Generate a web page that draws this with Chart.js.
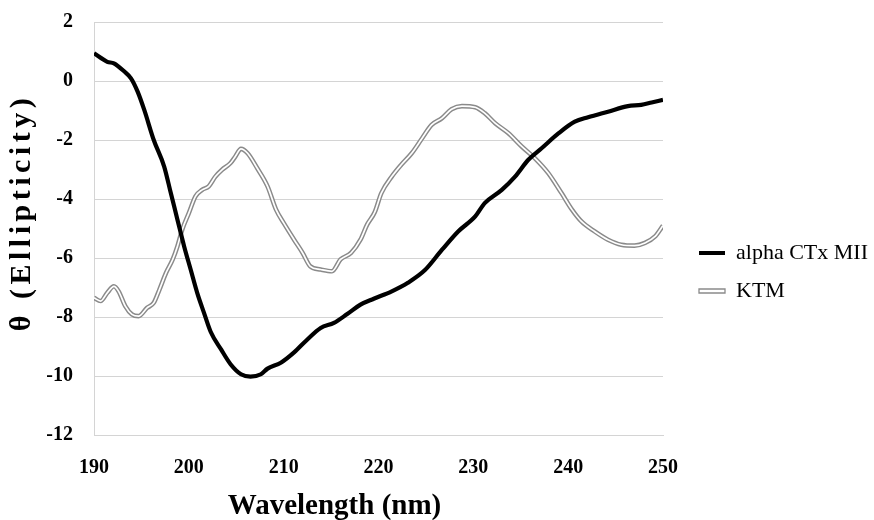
<!DOCTYPE html>
<html>
<head>
<meta charset="utf-8">
<script src="https://cdn.jsdelivr.net/npm/chart.js@4"></script>
<style>
  html, body { margin: 0; padding: 0; background: #fff; }
  #wrap { width: 874px; height: 520px; position: relative; }
</style>
</head>
<body>
<div id="wrap"><canvas id="cdChart"></canvas></div>
<script>
// alpha CTx MII
const ctxWavelength = [190.0, 191.4, 192.1, 193.2, 193.9, 194.6, 195.3, 196.3, 197.4, 198.1, 198.8, 199.5, 200.2, 200.9, 201.6, 202.3, 203.4, 204.4, 205.5, 206.5, 207.6, 208.3, 209.7, 211.1, 212.5, 213.9, 215.3, 216.7, 218.1, 219.5, 221.4, 223.1, 224.9, 226.7, 228.4, 230.2, 231.2, 233.0, 234.4, 235.8, 237.2, 239.0, 240.7, 242.1, 244.2, 246.3, 247.7, 248.8, 250.0];
const ctxTheta = [0.94, 0.65, 0.60, 0.32, 0.09, -0.36, -0.98, -2.0, -2.9, -3.8, -4.7, -5.6, -6.4, -7.2, -7.86, -8.5, -9.1, -9.6, -9.94, -10.02, -9.94, -9.75, -9.55, -9.2, -8.76, -8.37, -8.2, -7.9, -7.58, -7.38, -7.13, -6.84, -6.41, -5.72, -5.1, -4.59, -4.14, -3.69, -3.24, -2.67, -2.28, -1.77, -1.38, -1.23, -1.04, -0.85, -0.81, -0.73, -0.64];

// KTM
const ktmWavelength = [190.0, 190.7, 191.4, 192.1, 192.6, 193.3, 194.0, 194.7, 195.6, 196.3, 196.9, 197.6, 198.3, 198.8, 199.3, 200.0, 200.7, 201.4, 202.1, 202.8, 203.5, 204.4, 204.9, 205.5, 206.2, 207.2, 208.3, 209.2, 210.0, 211.1, 212.0, 212.8, 213.9, 215.1, 216.0, 217.1, 218.1, 218.8, 219.6, 220.3, 221.4, 222.4, 223.5, 224.6, 225.6, 226.7, 227.7, 228.8, 230.2, 231.2, 232.3, 233.7, 235.1, 236.5, 237.9, 239.3, 240.4, 241.4, 242.8, 244.2, 245.6, 247.0, 248.1, 249.2, 250.0];
const ktmTheta = [-7.35, -7.46, -7.18, -6.96, -7.13, -7.63, -7.91, -7.97, -7.69, -7.52, -7.07, -6.5, -6.05, -5.6, -5.04, -4.48, -3.91, -3.69, -3.57, -3.24, -3.01, -2.78, -2.56, -2.3, -2.45, -2.95, -3.57, -4.36, -4.81, -5.38, -5.83, -6.28, -6.39, -6.45, -6.05, -5.83, -5.38, -4.87, -4.45, -3.8, -3.24, -2.84, -2.45, -1.94, -1.49, -1.26, -0.96, -0.85, -0.89, -1.09, -1.43, -1.77, -2.22, -2.62, -3.12, -3.8, -4.36, -4.76, -5.1, -5.38, -5.55, -5.58, -5.49, -5.26, -4.9];

const seriesNames = ['alpha CTx MII', 'KTM'];
const xTitle = 'Wavelength (nm)';
const yTitle = 'θ (Ellipticity)';

const toPoints = (xs, ys) => xs.map((x, i) => ({ x, y: ys[i] }));
const serif = 'Liberation Serif, Times New Roman, serif';

// draw an axis title shifted (and optionally letter-spaced) like the original
function offsetTitle(scale, dx, dy, spacing) {
  scale.drawTitle = function () {
    const c = this.ctx;
    c.save();
    c.translate(dx, dy);
    c.letterSpacing = spacing;
    Object.getPrototypeOf(this).drawTitle.call(this);
    c.restore();
    c.letterSpacing = '0px';
  };
}

// legend: fixed width, nudged to match the original placement
const legendPlace = {
  id: 'legendPlace',
  beforeInit(chart) {
    const fit = chart.legend.fit;
    chart.legend.fit = function () {
      fit.call(this);
      this.width = 211;
    };
  },
  afterLayout(chart) {
    const lg = chart.legend;
    lg.left += 20; lg.right += 20;
    lg.top += 1; lg.bottom += 1;
    offsetTitle(chart.scales.y, 0, -16, '4.5px');
    offsetTitle(chart.scales.x, -44, 0, '0px');
  }
};

new Chart(document.getElementById('cdChart'), {
  type: 'line',
  data: {
    datasets: [
      { label: seriesNames[0], data: toPoints(ctxWavelength, ctxTheta), borderColor: '#000', borderWidth: 4.2, pointRadius: 0, cubicInterpolationMode: 'monotone' },
      { label: seriesNames[1] + ' core', data: toPoints(ktmWavelength, ktmTheta), borderColor: '#fff', borderWidth: 1.7, pointRadius: 0, cubicInterpolationMode: 'monotone' },
      { label: seriesNames[1], data: toPoints(ktmWavelength, ktmTheta), borderColor: '#8a8a8a', borderWidth: 4.6, pointRadius: 0, cubicInterpolationMode: 'monotone' }
    ]
  },
  options: {
    responsive: true,
    maintainAspectRatio: false,
    animation: false,
    layout: { padding: { top: 22, right: 0, bottom: 0, left: 0 } },
    plugins: {
      tooltip: { enabled: false },
      legend: {
        position: 'right',
        labels: {
          boxWidth: 26,
          boxHeight: 4,
          padding: 16,
          color: '#000',
          font: { family: serif, size: 22 },
          generateLabels: () => [
            { text: seriesNames[0], fillStyle: '#000', strokeStyle: '#000', lineWidth: 0, datasetIndex: 0 },
            { text: seriesNames[1], fillStyle: '#fff', strokeStyle: '#8a8a8a', lineWidth: 1.3, datasetIndex: 2 }
          ]
        }
      }
    },
    scales: {
      x: {
        type: 'linear',
        min: 190,
        max: 250,
        grid: { display: false },
        border: { color: '#d4d4d4', width: 1 },
        ticks: { stepSize: 10, padding: 13, color: '#000', font: { family: serif, size: 20, weight: 'bold' } },
        title: { display: true, text: xTitle, color: '#000', padding: { top: 0, bottom: -4 }, font: { family: serif, size: 29, weight: 'bold' } },
        afterFit: s => { s.height = 85; }
      },
      y: {
        min: -12,
        max: 2,
        grid: { color: '#d4d4d4', drawTicks: false },
        border: { color: '#d4d4d4', width: 1 },
        ticks: { stepSize: 2, padding: 21, color: '#000', font: { family: serif, size: 20, weight: 'bold' } },
        title: { display: true, text: yTitle, color: '#000', padding: { top: 4, bottom: 0 }, font: { family: serif, size: 30, weight: 'bold' } },
        afterFit: s => { s.width = 94; s.paddingTop = 0; s.paddingBottom = 0; }
      }
    }
  },
  plugins: [legendPlace]
});
</script>
</body>
</html>
